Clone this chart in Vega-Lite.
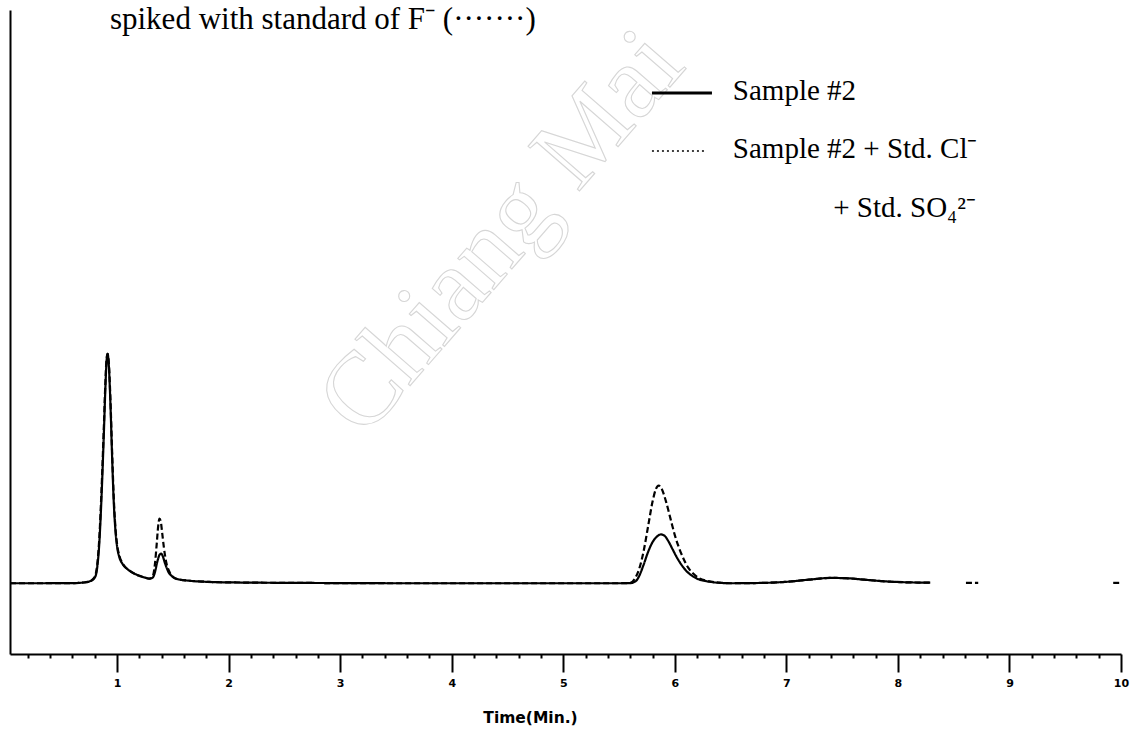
{
  "$schema": "https://vega.github.io/schema/vega-lite/v6.json",
  "width": 1111,
  "height": 644,
  "autosize": {"type": "none"},
  "padding": {"left": 10, "top": 10, "right": 17, "bottom": 77},
  "background": "white",
  "config": {"view": {"stroke": null}},
  "datasets": {
    "traces": [
      {"t": 0.04, "v": 0, "series": "Sample #2", "piece": 1},
      {"t": 0.3, "v": 0, "series": "Sample #2", "piece": 1},
      {"t": 0.6, "v": 0.02, "series": "Sample #2", "piece": 1},
      {"t": 0.7, "v": 0.1, "series": "Sample #2", "piece": 1},
      {"t": 0.76, "v": 0.3, "series": "Sample #2", "piece": 1},
      {"t": 0.8, "v": 0.8, "series": "Sample #2", "piece": 1},
      {"t": 0.82, "v": 2, "series": "Sample #2", "piece": 1},
      {"t": 0.84, "v": 5.5, "series": "Sample #2", "piece": 1},
      {"t": 0.86, "v": 12, "series": "Sample #2", "piece": 1},
      {"t": 0.88, "v": 20.5, "series": "Sample #2", "piece": 1},
      {"t": 0.895, "v": 27.5, "series": "Sample #2", "piece": 1},
      {"t": 0.905, "v": 31.2, "series": "Sample #2", "piece": 1},
      {"t": 0.915, "v": 32.4, "series": "Sample #2", "piece": 1},
      {"t": 0.925, "v": 31, "series": "Sample #2", "piece": 1},
      {"t": 0.94, "v": 25.5, "series": "Sample #2", "piece": 1},
      {"t": 0.955, "v": 18, "series": "Sample #2", "piece": 1},
      {"t": 0.97, "v": 11.5, "series": "Sample #2", "piece": 1},
      {"t": 0.985, "v": 7.5, "series": "Sample #2", "piece": 1},
      {"t": 1.0, "v": 5.2, "series": "Sample #2", "piece": 1},
      {"t": 1.02, "v": 3.7, "series": "Sample #2", "piece": 1},
      {"t": 1.05, "v": 2.7, "series": "Sample #2", "piece": 1},
      {"t": 1.1, "v": 1.9, "series": "Sample #2", "piece": 1},
      {"t": 1.15, "v": 1.4, "series": "Sample #2", "piece": 1},
      {"t": 1.2, "v": 1.05, "series": "Sample #2", "piece": 1},
      {"t": 1.25, "v": 0.8, "series": "Sample #2", "piece": 1},
      {"t": 1.29, "v": 0.65, "series": "Sample #2", "piece": 1},
      {"t": 1.32, "v": 0.8, "series": "Sample #2", "piece": 1},
      {"t": 1.34, "v": 1.6, "series": "Sample #2", "piece": 1},
      {"t": 1.36, "v": 3.0, "series": "Sample #2", "piece": 1},
      {"t": 1.38, "v": 4.0, "series": "Sample #2", "piece": 1},
      {"t": 1.395, "v": 4.2, "series": "Sample #2", "piece": 1},
      {"t": 1.41, "v": 3.8, "series": "Sample #2", "piece": 1},
      {"t": 1.43, "v": 2.8, "series": "Sample #2", "piece": 1},
      {"t": 1.46, "v": 1.6, "series": "Sample #2", "piece": 1},
      {"t": 1.5, "v": 0.9, "series": "Sample #2", "piece": 1},
      {"t": 1.55, "v": 0.55, "series": "Sample #2", "piece": 1},
      {"t": 1.65, "v": 0.35, "series": "Sample #2", "piece": 1},
      {"t": 1.8, "v": 0.2, "series": "Sample #2", "piece": 1},
      {"t": 2.1, "v": 0.1, "series": "Sample #2", "piece": 1},
      {"t": 2.6, "v": 0.05, "series": "Sample #2", "piece": 1},
      {"t": 3.5, "v": 0, "series": "Sample #2", "piece": 1},
      {"t": 4.5, "v": 0, "series": "Sample #2", "piece": 1},
      {"t": 5.5, "v": 0, "series": "Sample #2", "piece": 1},
      {"t": 5.6, "v": 0.02, "series": "Sample #2", "piece": 1},
      {"t": 5.65, "v": 0.3, "series": "Sample #2", "piece": 1},
      {"t": 5.68, "v": 1.0, "series": "Sample #2", "piece": 1},
      {"t": 5.72, "v": 2.6, "series": "Sample #2", "piece": 1},
      {"t": 5.76, "v": 4.4, "series": "Sample #2", "piece": 1},
      {"t": 5.8, "v": 5.8, "series": "Sample #2", "piece": 1},
      {"t": 5.84, "v": 6.6, "series": "Sample #2", "piece": 1},
      {"t": 5.875, "v": 6.9, "series": "Sample #2", "piece": 1},
      {"t": 5.905, "v": 6.75, "series": "Sample #2", "piece": 1},
      {"t": 5.94, "v": 6.0, "series": "Sample #2", "piece": 1},
      {"t": 5.98, "v": 4.8, "series": "Sample #2", "piece": 1},
      {"t": 6.02, "v": 3.6, "series": "Sample #2", "piece": 1},
      {"t": 6.06, "v": 2.6, "series": "Sample #2", "piece": 1},
      {"t": 6.1, "v": 1.8, "series": "Sample #2", "piece": 1},
      {"t": 6.15, "v": 1.1, "series": "Sample #2", "piece": 1},
      {"t": 6.2, "v": 0.65, "series": "Sample #2", "piece": 1},
      {"t": 6.28, "v": 0.3, "series": "Sample #2", "piece": 1},
      {"t": 6.38, "v": 0.08, "series": "Sample #2", "piece": 1},
      {"t": 6.5, "v": 0, "series": "Sample #2", "piece": 1},
      {"t": 6.8, "v": 0.05, "series": "Sample #2", "piece": 1},
      {"t": 7.0, "v": 0.2, "series": "Sample #2", "piece": 1},
      {"t": 7.2, "v": 0.5, "series": "Sample #2", "piece": 1},
      {"t": 7.4, "v": 0.75, "series": "Sample #2", "piece": 1},
      {"t": 7.55, "v": 0.7, "series": "Sample #2", "piece": 1},
      {"t": 7.7, "v": 0.5, "series": "Sample #2", "piece": 1},
      {"t": 7.9, "v": 0.25, "series": "Sample #2", "piece": 1},
      {"t": 8.1, "v": 0.12, "series": "Sample #2", "piece": 1},
      {"t": 8.29, "v": 0.08, "series": "Sample #2", "piece": 1},

      {"t": 0.04, "v": 0, "series": "Sample #2 + Std", "piece": 1},
      {"t": 0.3, "v": 0, "series": "Sample #2 + Std", "piece": 1},
      {"t": 0.6, "v": 0.02, "series": "Sample #2 + Std", "piece": 1},
      {"t": 0.7, "v": 0.1, "series": "Sample #2 + Std", "piece": 1},
      {"t": 0.76, "v": 0.3, "series": "Sample #2 + Std", "piece": 1},
      {"t": 0.8, "v": 0.9, "series": "Sample #2 + Std", "piece": 1},
      {"t": 0.82, "v": 2.4, "series": "Sample #2 + Std", "piece": 1},
      {"t": 0.84, "v": 6.2, "series": "Sample #2 + Std", "piece": 1},
      {"t": 0.86, "v": 13, "series": "Sample #2 + Std", "piece": 1},
      {"t": 0.88, "v": 21.5, "series": "Sample #2 + Std", "piece": 1},
      {"t": 0.895, "v": 28.3, "series": "Sample #2 + Std", "piece": 1},
      {"t": 0.905, "v": 31.6, "series": "Sample #2 + Std", "piece": 1},
      {"t": 0.915, "v": 32.4, "series": "Sample #2 + Std", "piece": 1},
      {"t": 0.925, "v": 31.4, "series": "Sample #2 + Std", "piece": 1},
      {"t": 0.94, "v": 26.2, "series": "Sample #2 + Std", "piece": 1},
      {"t": 0.955, "v": 18.8, "series": "Sample #2 + Std", "piece": 1},
      {"t": 0.97, "v": 12.2, "series": "Sample #2 + Std", "piece": 1},
      {"t": 0.985, "v": 7.9, "series": "Sample #2 + Std", "piece": 1},
      {"t": 1.0, "v": 5.5, "series": "Sample #2 + Std", "piece": 1},
      {"t": 1.02, "v": 3.9, "series": "Sample #2 + Std", "piece": 1},
      {"t": 1.05, "v": 2.8, "series": "Sample #2 + Std", "piece": 1},
      {"t": 1.1, "v": 1.9, "series": "Sample #2 + Std", "piece": 1},
      {"t": 1.15, "v": 1.4, "series": "Sample #2 + Std", "piece": 1},
      {"t": 1.2, "v": 1.05, "series": "Sample #2 + Std", "piece": 1},
      {"t": 1.25, "v": 0.8, "series": "Sample #2 + Std", "piece": 1},
      {"t": 1.29, "v": 0.65, "series": "Sample #2 + Std", "piece": 1},
      {"t": 1.32, "v": 1.0, "series": "Sample #2 + Std", "piece": 1},
      {"t": 1.34, "v": 2.8, "series": "Sample #2 + Std", "piece": 1},
      {"t": 1.355, "v": 5.5, "series": "Sample #2 + Std", "piece": 1},
      {"t": 1.368, "v": 8.0, "series": "Sample #2 + Std", "piece": 1},
      {"t": 1.38, "v": 9.15, "series": "Sample #2 + Std", "piece": 1},
      {"t": 1.392, "v": 8.7, "series": "Sample #2 + Std", "piece": 1},
      {"t": 1.405, "v": 7.0, "series": "Sample #2 + Std", "piece": 1},
      {"t": 1.42, "v": 5.0, "series": "Sample #2 + Std", "piece": 1},
      {"t": 1.44, "v": 3.0, "series": "Sample #2 + Std", "piece": 1},
      {"t": 1.47, "v": 1.6, "series": "Sample #2 + Std", "piece": 1},
      {"t": 1.5, "v": 0.9, "series": "Sample #2 + Std", "piece": 1},
      {"t": 1.55, "v": 0.55, "series": "Sample #2 + Std", "piece": 1},
      {"t": 1.65, "v": 0.35, "series": "Sample #2 + Std", "piece": 1},
      {"t": 1.8, "v": 0.2, "series": "Sample #2 + Std", "piece": 1},
      {"t": 2.1, "v": 0.1, "series": "Sample #2 + Std", "piece": 1},
      {"t": 2.6, "v": 0.05, "series": "Sample #2 + Std", "piece": 1},
      {"t": 3.5, "v": 0, "series": "Sample #2 + Std", "piece": 1},
      {"t": 4.5, "v": 0, "series": "Sample #2 + Std", "piece": 1},
      {"t": 5.5, "v": 0, "series": "Sample #2 + Std", "piece": 1},
      {"t": 5.6, "v": 0.05, "series": "Sample #2 + Std", "piece": 1},
      {"t": 5.64, "v": 0.6, "series": "Sample #2 + Std", "piece": 1},
      {"t": 5.68, "v": 2.0, "series": "Sample #2 + Std", "piece": 1},
      {"t": 5.72, "v": 4.5, "series": "Sample #2 + Std", "piece": 1},
      {"t": 5.76, "v": 8.0, "series": "Sample #2 + Std", "piece": 1},
      {"t": 5.8, "v": 11.5, "series": "Sample #2 + Std", "piece": 1},
      {"t": 5.83, "v": 13.3, "series": "Sample #2 + Std", "piece": 1},
      {"t": 5.855, "v": 13.8, "series": "Sample #2 + Std", "piece": 1},
      {"t": 5.88, "v": 13.4, "series": "Sample #2 + Std", "piece": 1},
      {"t": 5.92, "v": 11.6, "series": "Sample #2 + Std", "piece": 1},
      {"t": 5.96, "v": 9.2, "series": "Sample #2 + Std", "piece": 1},
      {"t": 6.0, "v": 6.8, "series": "Sample #2 + Std", "piece": 1},
      {"t": 6.04, "v": 4.9, "series": "Sample #2 + Std", "piece": 1},
      {"t": 6.08, "v": 3.4, "series": "Sample #2 + Std", "piece": 1},
      {"t": 6.12, "v": 2.2, "series": "Sample #2 + Std", "piece": 1},
      {"t": 6.17, "v": 1.3, "series": "Sample #2 + Std", "piece": 1},
      {"t": 6.22, "v": 0.7, "series": "Sample #2 + Std", "piece": 1},
      {"t": 6.3, "v": 0.3, "series": "Sample #2 + Std", "piece": 1},
      {"t": 6.4, "v": 0.08, "series": "Sample #2 + Std", "piece": 1},
      {"t": 6.5, "v": 0, "series": "Sample #2 + Std", "piece": 1},
      {"t": 6.8, "v": 0.05, "series": "Sample #2 + Std", "piece": 1},
      {"t": 7.0, "v": 0.2, "series": "Sample #2 + Std", "piece": 1},
      {"t": 7.2, "v": 0.5, "series": "Sample #2 + Std", "piece": 1},
      {"t": 7.4, "v": 0.75, "series": "Sample #2 + Std", "piece": 1},
      {"t": 7.55, "v": 0.7, "series": "Sample #2 + Std", "piece": 1},
      {"t": 7.7, "v": 0.5, "series": "Sample #2 + Std", "piece": 1},
      {"t": 7.9, "v": 0.25, "series": "Sample #2 + Std", "piece": 1},
      {"t": 8.1, "v": 0.12, "series": "Sample #2 + Std", "piece": 1},
      {"t": 8.29, "v": 0.08, "series": "Sample #2 + Std", "piece": 1},
      {"t": 8.61, "v": 0.05, "series": "Sample #2 + Std", "piece": 2},
      {"t": 8.72, "v": 0.05, "series": "Sample #2 + Std", "piece": 2},
      {"t": 9.93, "v": 0.05, "series": "Sample #2 + Std", "piece": 3},
      {"t": 10.0, "v": 0.05, "series": "Sample #2 + Std", "piece": 3}
    ]
  },
  "resolve": {"axis": {"x": "independent", "y": "independent"}},
  "layer": [
    {
      "data": {"values": [{"label": "Chiang Mai"}]},
      "mark": {"type": "text", "align": "center", "baseline": "middle", "font": "Liberation Serif", "fontSize": 104, "angle": 311, "fill": "transparent", "stroke": "#d6d6d6", "strokeWidth": 1.1},
      "encoding": {
        "x": {"datum": 4.45, "type": "quantitative", "axis": null},
        "y": {"datum": 49.5, "type": "quantitative", "axis": null},
        "text": {"field": "label"}
      }
    },
    {
      "data": {"name": "traces"},
      "mark": {"type": "line", "color": "black", "strokeWidth": 2.2, "interpolate": "monotone"},
      "encoding": {
        "x": {
          "field": "t", "type": "quantitative",
          "scale": {"domain": [0.04, 10], "nice": false, "zero": false},
          "axis": {
            "orient": "bottom",
            "values": [1, 2, 3, 4, 5, 6, 7, 8, 9, 10],
            "grid": false,
            "domainColor": "black", "domainWidth": 2,
            "tickColor": "black", "tickWidth": 2, "tickSize": 18,
            "labelFont": "DejaVu Sans", "labelFontWeight": "bold", "labelFontSize": 11,
            "labelColor": "black", "labelPadding": 5, "labelFlush": false,
            "title": "Time(Min.)",
            "titleFont": "DejaVu Sans", "titleFontWeight": "bold", "titleFontSize": 15.5,
            "titleColor": "black",
            "titleX": 520, "titleY": 63, "titleAlign": "center", "titleBaseline": "middle"
          }
        },
        "y": {
          "field": "v", "type": "quantitative",
          "scale": {"domain": [-10, 81], "nice": false, "zero": false},
          "axis": {
            "orient": "left", "grid": false, "ticks": false, "labels": false, "title": null,
            "domainColor": "black", "domainWidth": 2
          }
        },
        "detail": {"field": "piece"},
        "strokeDash": {
          "field": "series", "type": "nominal",
          "scale": {"domain": ["Sample #2", "Sample #2 + Std"], "range": [[1, 0], [6, 3]]},
          "legend": null
        }
      }
    },
    {
      "data": {"values": [{"label": "spiked with standard of F\u207b (\u00b7\u00b7\u00b7\u00b7\u00b7\u00b7\u00b7)"}]},
      "mark": {"type": "text", "align": "left", "baseline": "alphabetic", "font": "Liberation Serif", "fontSize": 31, "color": "black"},
      "encoding": {
        "x": {
          "datum": 0.936, "type": "quantitative",
          "axis": {
            "orient": "bottom",
            "values": [0.2, 0.4, 0.6, 0.8, 1.2, 1.4, 1.6, 1.8, 2.2, 2.4, 2.6, 2.8, 3.2, 3.4, 3.6, 3.8, 4.2, 4.4, 4.6, 4.8, 5.2, 5.4, 5.6, 5.8, 6.2, 6.4, 6.6, 6.8, 7.2, 7.4, 7.6, 7.8, 8.2, 8.4, 8.6, 8.8, 9.2, 9.4, 9.6, 9.8],
            "grid": false, "domain": false, "labels": false, "title": null,
            "tickColor": "black", "tickWidth": 2, "tickSize": 4
          }
        },
        "y": {"datum": 78.3, "type": "quantitative", "axis": null},
        "text": {"field": "label"}
      }
    },
    {
      "data": {"values": [{"label": "Sample #2"}]},
      "mark": {"type": "text", "align": "left", "baseline": "alphabetic", "font": "Liberation Serif", "fontSize": 29, "color": "black"},
      "encoding": {
        "x": {"datum": 6.52, "type": "quantitative", "axis": null},
        "y": {"datum": 68.3, "type": "quantitative", "axis": null},
        "text": {"field": "label"}
      }
    },
    {
      "data": {"values": [{"label": "Sample #2 + Std. Cl\u207b"}]},
      "mark": {"type": "text", "align": "left", "baseline": "alphabetic", "font": "Liberation Serif", "fontSize": 29, "color": "black"},
      "encoding": {
        "x": {"datum": 6.52, "type": "quantitative", "axis": null},
        "y": {"datum": 60.1, "type": "quantitative", "axis": null},
        "text": {"field": "label"}
      }
    },
    {
      "data": {"values": [{"label": "+ Std. SO\u2084\u00b2\u207b"}]},
      "mark": {"type": "text", "align": "left", "baseline": "alphabetic", "font": "Liberation Serif", "fontSize": 29, "color": "black"},
      "encoding": {
        "x": {"datum": 7.42, "type": "quantitative", "axis": null},
        "y": {"datum": 51.75, "type": "quantitative", "axis": null},
        "text": {"field": "label"}
      }
    },
    {
      "data": {"values": [{"series": "Sample #2"}]},
      "mark": {"type": "rule", "color": "black", "strokeWidth": 3},
      "encoding": {
        "x": {"datum": 5.795, "type": "quantitative", "axis": null},
        "x2": {"datum": 6.333},
        "y": {"datum": 69.27, "type": "quantitative", "axis": null}
      }
    },
    {
      "data": {"values": [{"series": "Sample #2 + Std"}]},
      "mark": {"type": "rule", "color": "black", "strokeWidth": 1.5, "strokeDash": [2, 3]},
      "encoding": {
        "x": {"datum": 5.795, "type": "quantitative", "axis": null},
        "x2": {"datum": 6.27},
        "y": {"datum": 61.08, "type": "quantitative", "axis": null}
      }
    }
  ]
}
